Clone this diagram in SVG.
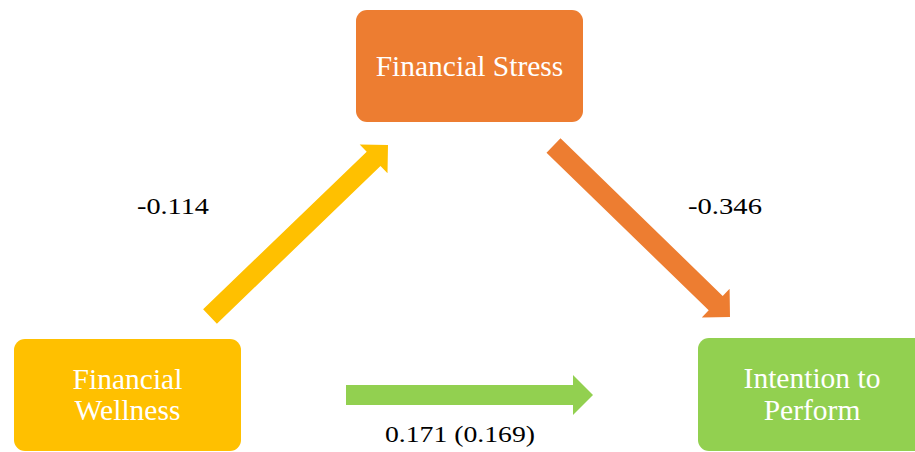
<svg xmlns="http://www.w3.org/2000/svg" width="915" height="452" viewBox="0 0 915 452">
  <style>
    .box-text { font-family: "Liberation Serif", "Times New Roman", serif; font-size: 29.5px; fill: #ffffff; text-anchor: middle; }
    .label { font-family: "Liberation Serif", "Times New Roman", serif; font-size: 23.5px; fill: #000000; }
    .stress { fill: #ED7D31; }
    .wellness { fill: #FFC000; }
    .intention { fill: #92D050; }
  </style>
  <rect width="915" height="452" fill="#ffffff"/>

  <!-- paths between the three constructs -->
  <g id="connectors">
    <polygon class="wellness" points="203.1,309.3 366.7,151.7 359.7,144.5 388,145 387.5,173.3 380.5,166.1 216.9,323.7"/>
    <polygon class="stress" points="546.5,152.7 560.5,138.3 722.7,295.9 729.6,288.8 730,317 701.8,317.4 708.7,310.3"/>
    <polygon class="intention" points="346,385 573,385 573,375 593,395 573,415 573,405 346,405"/>
    <text class="label" x="137" y="214" textLength="72" lengthAdjust="spacingAndGlyphs">-0.114</text>
    <text class="label" x="688" y="214" textLength="74" lengthAdjust="spacingAndGlyphs">-0.346</text>
    <text class="label" x="385" y="442" textLength="150" lengthAdjust="spacingAndGlyphs">0.171 (0.169)</text>
  </g>

  <g id="financial-stress">
    <rect class="stress" x="356" y="10" width="227" height="112" rx="11"/>
    <text class="box-text" x="469.5" y="76">Financial Stress</text>
  </g>

  <g id="financial-wellness">
    <rect class="wellness" x="14" y="339" width="227" height="112" rx="11"/>
    <text class="box-text" x="127.5" y="389">Financial</text>
    <text class="box-text" x="127.5" y="420">Wellness</text>
  </g>

  <g id="intention-to-perform">
    <rect class="intention" x="698" y="338" width="227" height="113" rx="11"/>
    <text class="box-text" x="812" y="388">Intention to</text>
    <text class="box-text" x="812" y="420">Perform</text>
  </g>
</svg>
